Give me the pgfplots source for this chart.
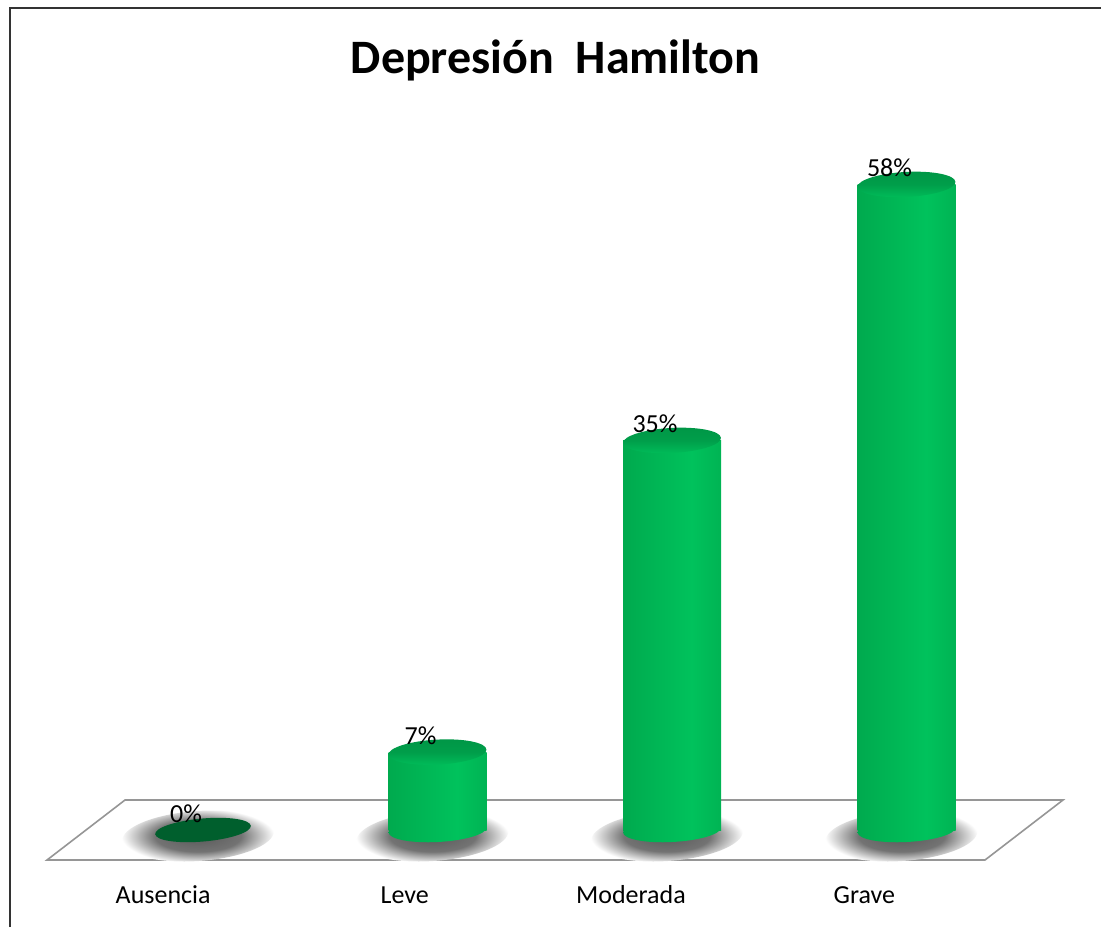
\documentclass[border=0pt]{standalone}
\usepackage{pgfplots}
\pgfplotsset{compat=1.18}
\usepackage{fontspec}
\setmainfont{Carlito}
\usetikzlibrary{shapes.geometric}

\definecolor{gL}{RGB}{0,128,56}
\definecolor{gM}{RGB}{0,170,78}
\definecolor{gB}{RGB}{0,194,92}
\definecolor{gR}{RGB}{0,135,60}
\definecolor{gTop}{RGB}{0,150,70}
\definecolor{gTopB}{RGB}{0,190,90}
\definecolor{gDark}{RGB}{0,95,45}
\definecolor{floorline}{RGB}{150,150,150}

\pgfdeclarehorizontalshading{cylbody}{100bp}{color(0bp)=(gL); color(25bp)=(gM); color(60bp)=(gB); color(85bp)=(gM); color(100bp)=(gR)}
\pgfdeclareradialshading{softshadow}{\pgfpoint{0bp}{0bp}}{color(0bp)=(black!65); color(14bp)=(black!55); color(19bp)=(black!30); color(25bp)=(white); color(50bp)=(white)}

\begin{document}
\begin{tikzpicture}
\begin{axis}[
  width=1101pt, height=927pt, scale only axis,
  xmin=-0.8657, xmax=3.8294,
  ymin=-8.715, ymax=74.57,
  clip=false, clip marker paths=true,
  hide y axis,
  axis line style={draw=none},
  tick style={draw=none},
  xtick={-0.17,0.86,1.825,2.82},
  xticklabels={Ausencia,Leve,Moderada,Grave},
  xticklabel style={font=\fontsize{26}{31}\selectfont, anchor=base, yshift=24pt},
  title={Depresión\ \ Hamilton},
  title style={font=\fontsize{48}{56}\selectfont\bfseries, at={(0.5,1)}, anchor=base, yshift=-80pt, xshift=5pt},
  /pgf/number format/assume math mode=true,
]
% floor
\addplot[draw=floorline, line width=1.6pt, fill=white] coordinates {(-0.6652,-2.695) (-0.3326,2.695) (3.6674,2.695) (3.3348,-2.695)} -- cycle;
% shadows
\addplot[draw=none, nodes near coords={\mbox{}},
  every node near coord/.style={shape=ellipse, inner sep=0pt, minimum width=152pt, minimum height=50pt, anchor=center, xshift=-5pt, yshift=-6pt, shading=softshadow, rotate=4}]
  coordinates {(0,0) (1,0) (2,0) (3,0)};
% bottom ellipses
\addplot[draw=none, nodes near coords={\mbox{}},
  every node near coord/.style={shape=ellipse, inner sep=0pt, minimum width=98pt, minimum height=24pt, anchor=center, shading=cylbody, rotate=3}]
  coordinates {(1,0) (2,0) (3,0)};
% bars
\addplot[ybar, bar width=98pt, bar shift=0pt, draw=none, shading=cylbody] coordinates {(1,7)};
\addplot[ybar, bar width=98pt, bar shift=0pt, draw=none, shading=cylbody] coordinates {(2,35)};
\addplot[ybar, bar width=98pt, bar shift=0pt, draw=none, shading=cylbody] coordinates {(3,58)};
% tops
\addplot[draw=none, nodes near coords={\mbox{}},
  every node near coord/.style={shape=ellipse, inner sep=0pt, minimum width=98pt, minimum height=25pt, anchor=center, top color=gTop, bottom color=gTopB, middle color=gTop!80!gTopB, rotate=3}]
  coordinates {(1,7) (2,35) (3,58)};
% zero value
\addplot[draw=none, nodes near coords={\mbox{}},
  every node near coord/.style={shape=ellipse, inner sep=0pt, minimum width=96pt, minimum height=23pt, anchor=center, fill=gDark, rotate=5}]
  coordinates {(0,0)};
% value labels
\addplot[draw=none, nodes near coords={\pgfmathprintnumber{\pgfplotspointmeta}\%},
  every node near coord/.style={font=\fontsize{26}{31}\selectfont, anchor=base, xshift=-17pt, yshift=8pt, inner sep=0pt}]
  coordinates {(0,0) (1,7) (2,35) (3,58)};
\end{axis}
\draw[black!80, line width=1.4pt] ([xshift=10pt]current axis.south west) -- ([xshift=10pt,yshift=-8pt]current axis.north west) -- ([yshift=-8pt]current axis.north east);
\pgfresetboundingbox
\path (current axis.south west) rectangle (current axis.north east);
\end{tikzpicture}
\end{document}
